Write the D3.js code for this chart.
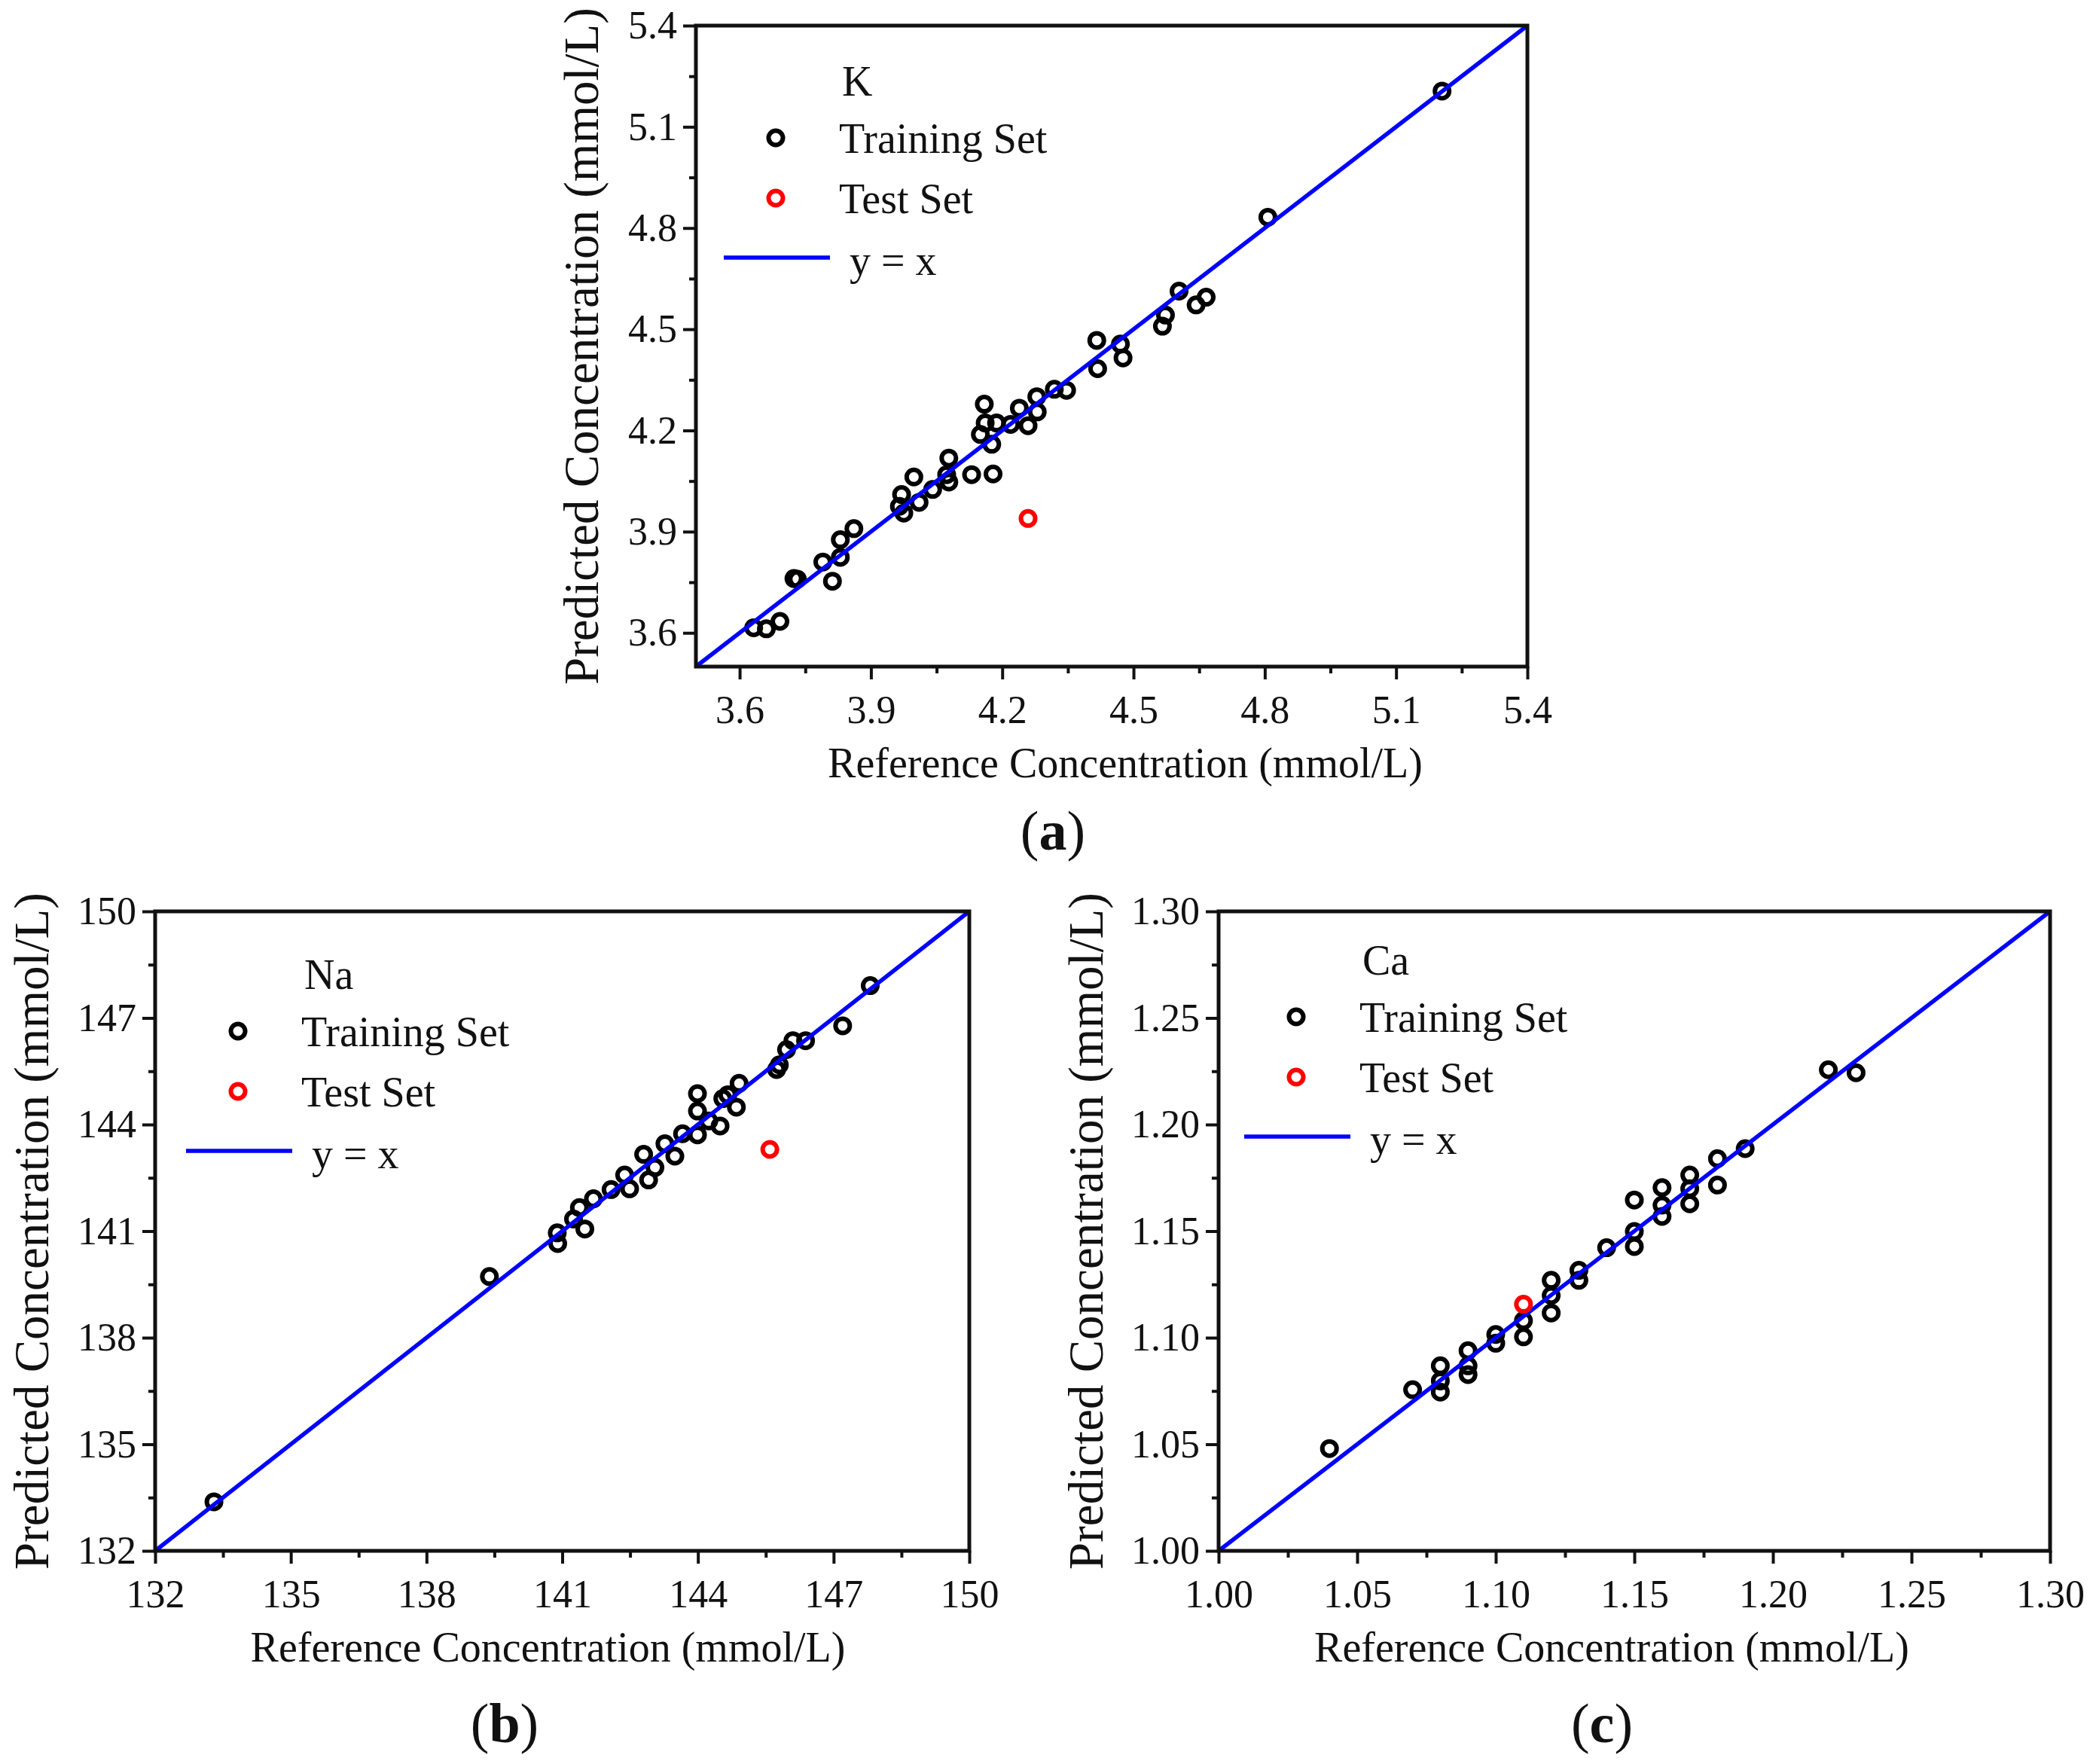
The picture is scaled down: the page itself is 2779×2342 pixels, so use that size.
<!DOCTYPE html>
<html>
<head>
<meta charset="utf-8">
<script src="https://cdn.jsdelivr.net/npm/d3@7/dist/d3.min.js"></script>
<style>
body { margin: 0; background: #fff; }
svg text { font-family: "Liberation Serif", "DejaVu Serif", serif; fill: #111; }
</style>
</head>
<body>
<div id="chart"></div>
<script>
// K panel
var kRef  = [3.632,3.661,3.692,3.724,3.732,3.790,3.812,3.830,3.830,3.861,3.970,3.965,3.975,3.998,4.010,4.041,4.078,4.073,4.078,4.130,4.179,4.159,4.150,4.161,4.187,4.176,4.219,4.239,4.259,4.279,4.280,4.319,4.347,4.416,4.418,4.470,4.476,4.566,4.573,4.604,4.643,4.666,4.807,5.205];
var kPred = [3.615,3.612,3.634,3.761,3.759,3.810,3.753,3.824,3.876,3.909,4.010,3.975,3.955,4.062,3.987,4.025,4.118,4.069,4.047,4.069,4.071,4.278,4.188,4.222,4.222,4.159,4.218,4.266,4.214,4.300,4.255,4.322,4.319,4.467,4.383,4.456,4.415,4.509,4.542,4.613,4.572,4.595,4.832,5.206];
var kTestRef = [4.259], kTestPred = [3.939];
var kTicks = [3.6,3.9,4.2,4.5,4.8,5.1,5.4];

// Na panel
var naRef  = [133.3,139.39,140.89,140.9,141.25,141.38,141.5,141.69,142.08,142.38,142.49,142.8,142.91,143.05,143.27,143.49,143.66,143.99,143.99,143.99,144.24,144.49,144.55,144.66,144.85,144.91,145.74,145.8,145.96,146.1,146.38,147.2,147.81];
var naPred = [133.38,139.72,140.95,140.65,141.34,141.66,141.06,141.91,142.17,142.58,142.19,143.16,142.44,142.79,143.46,143.11,143.74,144.87,144.38,143.71,144.1,143.96,144.73,144.84,144.49,145.16,145.55,145.68,146.11,146.36,146.36,146.78,147.91];
var naTestRef = [145.59], naTestPred = [143.30];
var naTicks = [132,135,138,141,144,147,150];

// Ca panel
var caRef  = [1.04,1.07,1.08,1.08,1.08,1.09,1.09,1.09,1.10,1.10,1.11,1.11,1.12,1.12,1.12,1.13,1.13,1.14,1.15,1.15,1.15,1.16,1.16,1.16,1.17,1.17,1.17,1.18,1.18,1.19,1.22,1.23];
var caPred = [1.048,1.0756,1.0868,1.0797,1.0745,1.0939,1.0868,1.0827,1.1015,1.0974,1.108,1.1004,1.1269,1.1198,1.1116,1.1316,1.1269,1.1422,1.1646,1.1498,1.1428,1.1704,1.1622,1.1569,1.1763,1.1699,1.1628,1.184,1.1716,1.1887,1.2257,1.2243];
var caTestRef = [1.11], caTestPred = [1.1157];
var caTicks = [1.00,1.05,1.10,1.15,1.20,1.25,1.30];

var W = 2779, H = 2342;
var svg = d3.select('#chart').append('svg')
    .attr('width', W).attr('height', H);
svg.append('rect').attr('width', W).attr('height', H).attr('fill', '#fff');

function zip(a, b) { return a.map(function(v, i) { return [v, b[i]]; }); }

function scatterPanel(o) {
    var x = d3.scaleLinear().domain(o.domain).range([o.left, o.right]);
    var y = d3.scaleLinear().domain(o.domain).range([o.bottom, o.top]);
    var minors = d3.pairs(o.ticks).map(function(p) { return (p[0] + p[1]) / 2; });
    var fmt = d3.format(o.fmt);
    var g = svg.append('g');

    function styleAxis(sel) {
        sel.select('.domain').remove();
        sel.selectAll('line').attr('stroke', '#111').attr('stroke-width', 4);
        sel.selectAll('text').attr('font-size', 52)
            .attr('font-family', '"Liberation Serif", serif').attr('fill', '#111');
    }

    g.append('g').attr('transform', 'translate(0,' + o.bottom + ')')
        .call(d3.axisBottom(x).tickValues(o.ticks).tickFormat(fmt).tickSize(17).tickPadding(21))
        .call(styleAxis);
    g.append('g').attr('transform', 'translate(0,' + o.bottom + ')')
        .call(d3.axisBottom(x).tickValues(minors).tickFormat('').tickSize(9))
        .call(styleAxis);
    g.append('g').attr('transform', 'translate(' + o.left + ',0)')
        .call(d3.axisLeft(y).tickValues(o.ticks).tickFormat(fmt).tickSize(17).tickPadding(8))
        .call(styleAxis);
    g.append('g').attr('transform', 'translate(' + o.left + ',0)')
        .call(d3.axisLeft(y).tickValues(minors).tickFormat('').tickSize(9))
        .call(styleAxis);

    // training points under the y = x line, test point on top
    g.append('g').selectAll('circle').data(zip(o.ref, o.pred)).join('circle')
        .attr('cx', function(d) { return x(d[0]); })
        .attr('cy', function(d) { return y(d[1]); })
        .attr('r', 9.5).attr('fill', 'none').attr('stroke', '#000').attr('stroke-width', 6);

    g.append('line')
        .attr('x1', x(o.domain[0])).attr('y1', y(o.domain[0]))
        .attr('x2', x(o.domain[1])).attr('y2', y(o.domain[1]))
        .attr('stroke', '#0000ff').attr('stroke-width', 5.5);

    g.append('g').selectAll('circle').data(zip(o.testRef, o.testPred)).join('circle')
        .attr('cx', function(d) { return x(d[0]); })
        .attr('cy', function(d) { return y(d[1]); })
        .attr('r', 9.5).attr('fill', 'none').attr('stroke', '#ff0000').attr('stroke-width', 6);

    g.append('rect')
        .attr('x', o.left).attr('y', o.top)
        .attr('width', o.right - o.left).attr('height', o.bottom - o.top)
        .attr('fill', 'none').attr('stroke', '#111').attr('stroke-width', 5);

    // axis titles
    g.append('text')
        .attr('x', (o.left + o.right) / 2 + o.xTitleShift).attr('y', o.bottom + 147)
        .attr('text-anchor', 'middle').attr('font-size', 56)
        .text('Reference Concentration (mmol/L)');
    g.append('text')
        .attr('transform', 'translate(' + (o.left - o.yTitleOff) + ',' + ((o.top + o.bottom) / 2) + ') rotate(-90)')
        .attr('text-anchor', 'middle').attr('dy', '0.3em').attr('font-size', 65)
        .text('Predicted Concentration (mmol/L)');

    // legend
    var lx = o.legend[0], ly = o.legend[1];
    var lg = g.append('g').attr('font-size', 56);
    lg.append('text').attr('x', lx + 88).attr('y', ly - 56).text(o.name);
    lg.append('circle').attr('cx', lx).attr('cy', ly).attr('r', 9.5)
        .attr('fill', 'none').attr('stroke', '#000').attr('stroke-width', 6);
    lg.append('text').attr('x', lx + 84).attr('y', ly).attr('dy', '0.35em').text('Training Set');
    lg.append('circle').attr('cx', lx).attr('cy', ly + 80).attr('r', 9.5)
        .attr('fill', 'none').attr('stroke', '#ff0000').attr('stroke-width', 6);
    lg.append('text').attr('x', lx + 84).attr('y', ly + 80).attr('dy', '0.35em').text('Test Set');
    lg.append('line').attr('x1', lx - 69).attr('x2', lx + 72)
        .attr('y1', ly + 159).attr('y2', ly + 159)
        .attr('stroke', '#0000ff').attr('stroke-width', 5.5);
    lg.append('text').attr('x', lx + 98).attr('y', ly + 162).attr('dy', '0.35em').text('y = x');

    // panel label
    var lab = g.append('text')
        .attr('x', o.label[0]).attr('y', o.label[1])
        .attr('text-anchor', 'middle').attr('font-size', 74);
    lab.append('tspan').text('(');
    lab.append('tspan').attr('font-weight', 'bold').text(o.tag);
    lab.append('tspan').text(')');
}

scatterPanel({
    name: 'K', tag: 'a', ref: kRef, pred: kPred, testRef: kTestRef, testPred: kTestPred,
    ticks: kTicks, domain: [3.5, 5.4], fmt: '.1f',
    left: 924, right: 2028, top: 34, bottom: 885, xTitleShift: 18,
    yTitleOff: 150, legend: [1030, 183], label: [1398, 1128]
});
scatterPanel({
    name: 'Na', tag: 'b', ref: naRef, pred: naPred, testRef: naTestRef, testPred: naTestPred,
    ticks: naTicks, domain: [132, 150], fmt: 'd',
    left: 206, right: 1287, top: 1210, bottom: 2059, xTitleShift: -19,
    yTitleOff: 162, legend: [316, 1369], label: [670, 2313]
});
scatterPanel({
    name: 'Ca', tag: 'c', ref: caRef, pred: caPred, testRef: caTestRef, testPred: caTestPred,
    ticks: caTicks, domain: [1.00, 1.30], fmt: '.2f',
    left: 1618, right: 2722, top: 1210, bottom: 2059, xTitleShift: -30,
    yTitleOff: 174, legend: [1721, 1350], label: [2127, 2313]
});
</script>
</body>
</html>
